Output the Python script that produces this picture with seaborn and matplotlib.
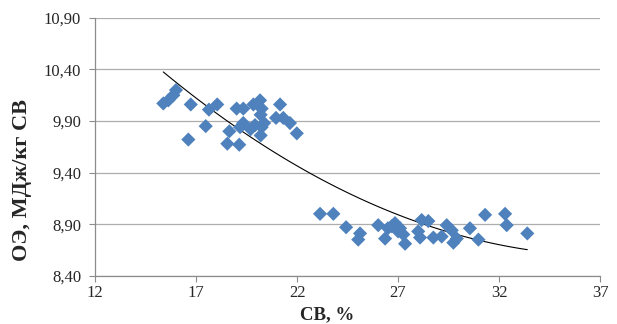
import numpy as np
import pandas as pd
import matplotlib
matplotlib.use("Agg")
import matplotlib.pyplot as plt
import seaborn as sns

# Dry matter content, %
sv = [15.38, 15.63, 15.88, 16.01, 16.62, 16.74, 17.48, 17.64, 18.05, 18.55,
      18.65, 19.01, 19.14, 19.18, 19.34, 19.34, 19.84, 19.92, 20.17, 20.20,
      20.20, 20.25, 20.37, 21.16, 20.96, 21.32, 21.65, 21.99, 20.25, 19.70,
      23.14, 23.80, 24.43, 25.12, 25.03, 26.02, 26.36, 26.69, 26.85, 27.10,
      27.26, 27.35, 28.00, 28.17, 28.09, 28.50, 28.75, 29.16, 29.41, 29.66,
      29.74, 29.91, 30.56, 30.98, 31.31, 32.30, 32.38, 33.40, 27.00, 26.50]
# Metabolizable energy, MJ/kg DM
oe = [10.07, 10.10, 10.15, 10.20, 9.72, 10.06, 9.85, 10.01, 10.06, 9.68,
      9.80, 10.02, 9.67, 9.84, 10.02, 9.88, 10.06, 9.86, 10.10, 9.96,
      9.76, 9.84, 9.88, 10.06, 9.93, 9.93, 9.88, 9.78, 10.02, 9.82,
      9.00, 9.00, 8.87, 8.81, 8.75, 8.89, 8.76, 8.88, 8.91, 8.86,
      8.80, 8.71, 8.83, 8.94, 8.77, 8.93, 8.77, 8.78, 8.89, 8.84,
      8.72, 8.76, 8.86, 8.75, 8.99, 9.00, 8.89, 8.81, 8.83, 8.86]

x_ticks = [12, 17, 22, 27, 32, 37]
y_ticks = [8.40, 8.90, 9.40, 9.90, 10.40, 10.90]

df = pd.DataFrame({"sv": sv, "oe": oe})

sns.set_theme(style="white")
plt.rcParams["font.family"] = ["Liberation Serif", "DejaVu Serif"]

fig = plt.figure(figsize=(6.17, 3.24), dpi=100)
ax = fig.add_axes([0.154, 0.149, 0.8185, 0.796])

sns.scatterplot(data=df, x="sv", y="oe", marker="D", s=52, color="#4F81BD",
                edgecolor="none", linewidth=0, ax=ax, zorder=3)
sns.regplot(data=df, x="sv", y="oe", order=2, ci=None, scatter=False,
            line_kws={"color": "black", "linewidth": 0.8}, ax=ax)

ax.set_xlim(12, 37)
ax.set_ylim(8.40, 10.90)
ax.set_xticks(x_ticks)
ax.set_xticklabels([str(t) for t in x_ticks])
ax.set_yticks(y_ticks)
ax.set_yticklabels([f"{t:.2f}".replace(".", ",") for t in y_ticks])

ax.yaxis.grid(True, color="#adadad", linewidth=0.9)
ax.xaxis.grid(False)
ax.set_axisbelow(True)

for side in ("top", "right"):
    ax.spines[side].set_visible(False)
for side in ("left", "bottom"):
    ax.spines[side].set_color("#8c8c8c")
    ax.spines[side].set_linewidth(0.9)

ax.tick_params(axis="both", which="major", direction="out", length=4,
               width=0.8, color="#8c8c8c", labelsize=12, labelcolor="#262626",
               left=True, bottom=True)
ax.tick_params(axis="y", pad=6)
ax.tick_params(axis="x", pad=3)

ax.set_xlabel("СВ, %", fontsize=13.5, fontweight="bold")
ax.set_ylabel("ОЭ, МДж/кг СВ", fontsize=16, fontweight="bold")
ax.xaxis.set_label_coords(0.459, -0.152)
ax.yaxis.set_label_coords(-0.145, 0.37)
ax.xaxis.label.set_verticalalignment("center")
ax.yaxis.label.set_verticalalignment("center")

fig.savefig("out.png", dpi=100)
